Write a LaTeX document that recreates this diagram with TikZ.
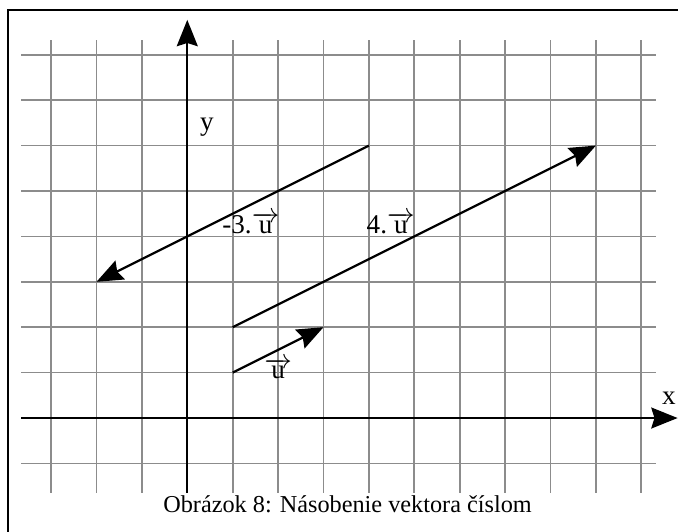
\documentclass[tikz,border=0pt]{standalone}
\usepackage{fontspec}
\setmainfont{Liberation Serif}
\usetikzlibrary{arrows.meta}
\newcommand\myvu{\ensuremath{\overrightarrow{\textrm{u}}}}
\tikzset{
  gridline/.style={draw=black!45, line width=1.1pt},
  tipstyle/.style={-{Stealth[length=0.58cm,width=0.46cm,inset=0.07cm]}},
  axisline/.style={draw=black, line width=1.5pt, tipstyle},
  vecline/.style={draw=black, line width=1.4pt, tipstyle},
  lbl/.style={inner sep=0pt, anchor=base, font=\fontsize{17}{19}\selectfont},
  caplbl/.style={inner sep=0pt, anchor=base, font=\fontsize{15.2}{17}\selectfont},
}
\begin{document}
\begin{tikzpicture}
\useasboundingbox (-4.125,-2.489) rectangle (10.808,9.207);
% frame (only top and left visible)
\draw[line width=1.1pt] (-3.948,-2.7) -- (-3.948,8.987) -- (11,8.987);
% grid
\foreach \i in {-3,...,10} \draw[gridline] (\i,-1.65) -- (\i,8.33);
\foreach \j in {-1,...,8} \draw[gridline] (-3.66,\j) -- (10.32,\j);
% axes
\coordinate (xs) at (-3.66,0);
\coordinate (xe) at (10.8,0);
\coordinate (ys) at (0,-1.65);
\coordinate (ye) at (0,8.77);
\draw[axisline] (xs) -- (xe);
\draw[axisline] (ys) -- (ye);
% vectors
\coordinate (ua) at (1,1); \coordinate (ub) at (3,2);
\coordinate (fa) at (1,2); \coordinate (fb) at (9,6);
\coordinate (ma) at (4,6); \coordinate (mb) at (-2,3);
\draw[vecline] (ua) -- (ub);
\draw[vecline] (fa) -- (fb);
\draw[vecline] (ma) -- (mb);
% labels
\node[lbl] (ylab) at (0.43,6.34) {y};
\node[lbl] (xlab) at (10.61,0.29) {x};
\node[lbl] (lm3) at (1.40,4.07) {-3.\myvu};
\node[lbl] (l4) at (4.48,4.07) {4.\myvu};
\node[lbl] (lu) at (2.0,0.86) {\myvu};
\node[caplbl] (cap) at (3.53,-2.07) {Obrázok 8: Násobenie vektora číslom};
\end{tikzpicture}
\end{document}
